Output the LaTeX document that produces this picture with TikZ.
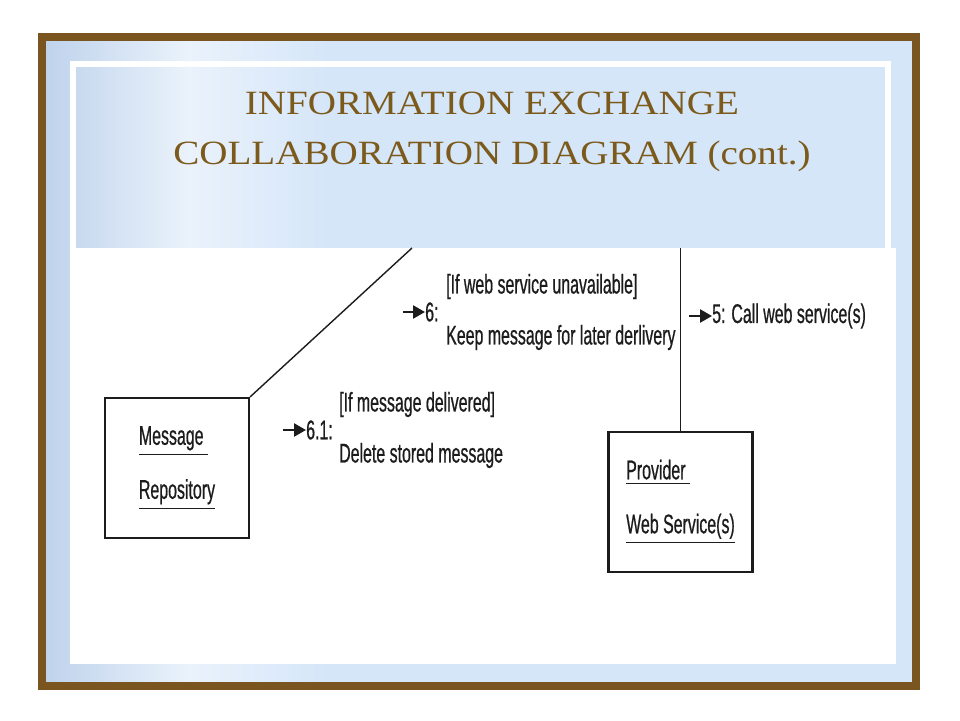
\documentclass[tikz,border=0pt]{standalone}
\usepackage{amsfonts, amsmath, amssymb}
\usepackage{fontspec}
\setmainfont{Liberation Serif}
\newfontfamily\titlefont[FakeStretch=1.15]{Liberation Serif}
\newfontfamily\umlfont[FakeStretch=0.59,FakeBold=0.6]{Liberation Sans}
\usetikzlibrary{shapes,arrows.meta,backgrounds}
\definecolor{framebrown}{HTML}{7A5520}
\definecolor{skyback}{HTML}{D5E6F9}
\definecolor{columnblue}{HTML}{BFD3EC}
\definecolor{columnwhite}{HTML}{EAF2FB}
\definecolor{titlebrown}{HTML}{7C5A1C}
\definecolor{umlink}{HTML}{1C1C1C}

\begin{document}
\begin{tikzpicture}[x=1pt,y=-1pt,
  titletext/.style={font={\titlefont\fontsize{34}{50}\selectfont},align=center,text=titlebrown},
  umltext/.style={font={\umlfont\fontsize{27}{51}\selectfont},text=umlink,inner sep=0pt},
  objbox/.style={draw=umlink,line width=2.2pt,minimum width=144pt,minimum height=140pt,align=left,
    font={\umlfont\fontsize{27}{54}\selectfont},text=umlink},
  msgarrow/.style={-{Triangle[length=12pt,width=13pt]},line width=2.4pt,draw=umlink},
  link/.style={line width=1.4pt,draw=umlink}]
\useasboundingbox (0,0) rectangle (960,720);
\fill[white] (0,0) rectangle (960,720);
% slide frame
\fill[skyback] (42,37) rectangle (916,686);
\shade[left color=columnblue,right color=skyback,middle color=columnwhite] (46,41) rectangle (330,681);
\draw[framebrown,line width=8pt] (42,37) rectangle (916,686);
\draw[white,line width=6pt] (73,64) rectangle (888,252);
\fill[white] (70,248) rectangle (896,664);
% title
\node[titletext] (title) at (492,132) {INFORMATION EXCHANGE\\COLLABORATION DIAGRAM (cont.)};
% objects
\node[objbox] (repo) at (177,468) {\underline{Message\ }\\\underline{Repository}};
\node[objbox] (prov) at (680.5,502) {\underline{Provider\ }\\\underline{Web Service(s)}};
\coordinate (diagtop) at (412,248);
\coordinate (provtop) at (680.5,248);
\draw[link] (repo.north east) -- (diagtop);
\draw[link] (prov.north) -- (provtop);
% messages
\coordinate (a6) at (403,312);
\node[umltext,anchor=west] (m6) at (425,312) {6:};
\node[umltext,anchor=west,align=left] (t6) at (446,312) {[If web service unavailable]\\Keep message for later derlivery};
\draw[msgarrow] (a6) -- (m6.west);
\coordinate (a5) at (689,316);
\node[umltext,anchor=west] (m5) at (712,316) {5: Call web service(s)};
\draw[msgarrow] (a5) -- (m5.west);
\coordinate (a61) at (283,430);
\node[umltext,anchor=west] (m61) at (306,430) {6.1:};
\node[umltext,anchor=west,align=left] (t61) at (339,430) {[If message delivered]\\Delete stored message};
\draw[msgarrow] (a61) -- (m61.west);
\end{tikzpicture}
\end{document}
